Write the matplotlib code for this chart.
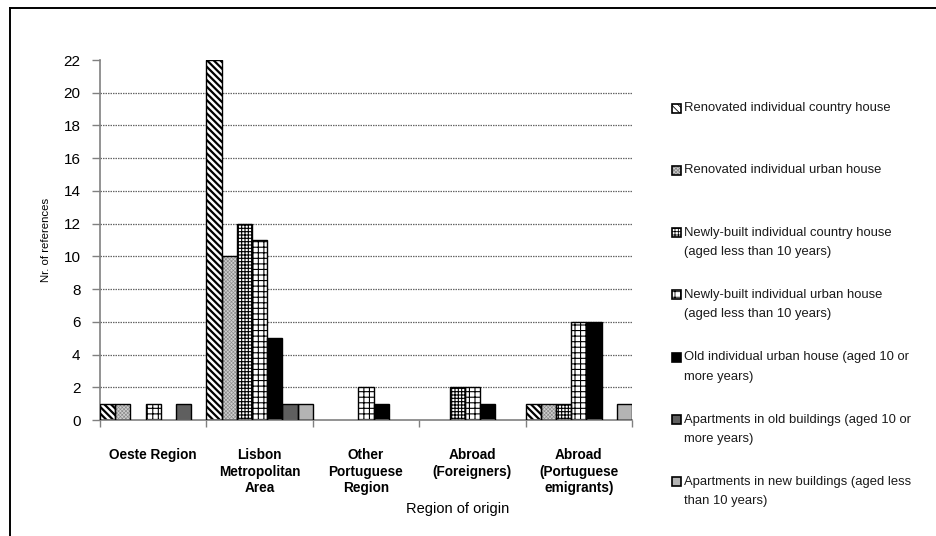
import numpy as np
import matplotlib
matplotlib.use("Agg")
import matplotlib.pyplot as plt
from matplotlib.patches import Rectangle
from matplotlib.lines import Line2D

plt.rcParams["font.family"] = ["Liberation Sans", "DejaVu Sans"]

# --- data
regions = ["Oeste Region", "Lisbon\nMetropolitan\nArea", "Other\nPortuguese\nRegion",
           "Abroad\n(Foreigners)", "Abroad\n(Portuguese\nemigrants)"]
series = [
    "Renovated individual country house",
    "Renovated individual urban house",
    "Newly-built individual country house\n(aged less than 10 years)",
    "Newly-built individual urban house\n(aged less than 10 years)",
    "Old individual urban house (aged 10 or\nmore years)",
    "Apartments in old buildings (aged 10 or\nmore years)",
    "Apartments in new buildings (aged less\nthan 10 years)",
]
renovated_country = [1, 22, 0, 0, 1]
renovated_urban   = [1, 10, 0, 0, 1]
new_country       = [0, 12, 0, 2, 1]
new_urban         = [1, 11, 2, 2, 6]
old_urban         = [0, 5, 1, 1, 6]
apt_old           = [1, 1, 0, 0, 0]
apt_new           = [0, 1, 0, 0, 1]
values = [renovated_country, renovated_urban, new_country, new_urban,
          old_urban, apt_old, apt_new]
yticks = list(range(0, 23, 2))

# --- fill styles: (face, hatch, hatch colour, hatch linewidth)
STYLES = [
    ("white",   "\\" * 5,   "black",   1.6),
    ("#cfcfcf", "x" * 9,    "#8a8a8a", 0.45),
    ("white",   "+" * 5,    "black",   0.8),
    ("white",   "+++",      "black",   0.8),
    ("black",   None,       "black",   1.0),
    ("#5f5f5f", None,       "black",   1.0),
    ("#b4b4b4", None,       "black",   1.0),
]

W, H = 936, 536
fig = plt.figure(figsize=(W / 100, H / 100), dpi=100)
ax = fig.add_axes([100 / W, 1 - 420 / H, 532 / W, 360 / H])


def fx(px):
    return px / W


def fy(py):
    return 1 - py / H


x = np.arange(len(regions))
n = len(series)
bw = 1.0 / n
for i, (vals, (face, hatch, hcol, hlw)) in enumerate(zip(values, STYLES)):
    v = np.array(vals, dtype=float)
    keep = v > 0
    pos = x[keep] - 0.5 + bw * (i + 0.5)
    # hatch layer first (hatch colour follows edgecolor), then the black outline
    with plt.rc_context({"hatch.linewidth": hlw}):
        fill = ax.bar(pos, v[keep], width=bw, color=face, hatch=hatch,
                      edgecolor=hcol, linewidth=0, zorder=2)
    for p in fill:
        if hasattr(p, "set_hatch_linewidth"):
            p.set_hatch_linewidth(hlw)
    ax.bar(pos, v[keep], width=bw, fill=False, edgecolor="black",
           linewidth=1.0, zorder=3)

ax.set_xlim(-0.5, len(regions) - 0.5)
ax.set_ylim(0, 22)
ax.set_yticks(yticks)
ax.tick_params(axis="y", direction="out", length=6, width=1, color="#808080",
               labelsize=11, pad=8)
ax.yaxis.grid(True, linestyle=(0, (1.2, 0.8)), color="#666666", linewidth=0.9,
              zorder=0)
ax.get_ygridlines()[0].set_visible(False)
ax.get_ygridlines()[-1].set_visible(False)

ax.set_xticks(x)
ax.set_xticklabels(regions, fontweight="bold", fontsize=9.8, linespacing=1.25)
ax.set_xticks(np.arange(len(regions) + 1) - 0.5, minor=True)
ax.tick_params(axis="x", which="major", length=0, pad=20)
ax.tick_params(axis="x", which="minor", direction="out", length=5, width=1,
               color="#808080")

for s in ("top", "right"):
    ax.spines[s].set_visible(False)
for s in ("left", "bottom"):
    ax.spines[s].set_color("#808080")
    ax.spines[s].set_linewidth(1.2)

ax.set_ylabel("Nr. of references", fontsize=8.2, labelpad=9)
ax.set_xlabel("Region of origin", fontsize=10.5, labelpad=6)
ax.xaxis.set_label_coords((458 - 100) / 532, -(509 - 420) / 360)
ax.xaxis.label.set_va("center")

# --- legend drawn by hand so the marker sits on the first line
for i, (lab, (face, hatch, hcol, hlw)) in enumerate(zip(series, STYLES)):
    y0 = 108 + 62.3 * i
    box = (fx(672), fy(y0 + 4.5))
    with plt.rc_context({"hatch.linewidth": 0.6}):
        fig.add_artist(Rectangle(box, 9 / W, 9 / H, transform=fig.transFigure,
                                 facecolor=face, hatch=hatch, edgecolor=hcol,
                                 linewidth=0))
    fig.add_artist(Rectangle(box, 9 / W, 9 / H, transform=fig.transFigure,
                             fill=False, edgecolor="black", linewidth=1.2))
    for k, line in enumerate(lab.split("\n")):
        fig.text(fx(684), fy(y0 + 19.5 * k), line, fontsize=9.4,
                 ha="left", va="center", color="#1a1a1a")

# outer frame (right and bottom edges fall outside the picture)
fig.add_artist(Line2D([fx(9.5), fx(9.5)], [fy(8), -0.1], transform=fig.transFigure,
                      color="black", linewidth=1.4))
fig.add_artist(Line2D([fx(9.5), 1.1], [fy(8), fy(8)], transform=fig.transFigure,
                      color="black", linewidth=1.4))

fig.savefig("out.png", dpi=100, facecolor="white")
